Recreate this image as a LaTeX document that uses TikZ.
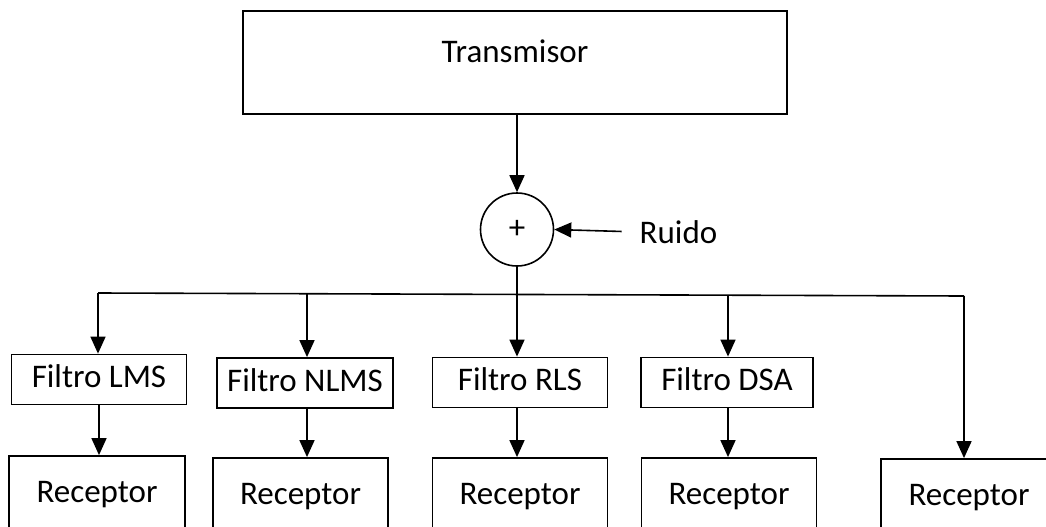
\documentclass[tikz,border=0pt]{standalone}
\usepackage{fontspec}
\setmainfont{Carlito}
\usetikzlibrary{arrows.meta,calc}

\tikzset{
  lbl/.style={font=\fontsize{33}{40}\selectfont, inner sep=0pt},
  blk/.style={lbl, draw, line width=1.8pt},
  filtbox/.style={blk, minimum height=50pt, text height=22pt, text depth=6pt},
  recbox/.style={blk, text height=46pt, text depth=44pt},
  conn/.style={line width=1.6pt},
  arr/.style={conn, -{Triangle[length=17pt,width=15pt]}},
}

\begin{document}
\begin{tikzpicture}[x=1pt, y=-1pt]
  \useasboundingbox (0,0) rectangle (1046,527);
  \clip (0,0) rectangle (1046,527);

  % source and noise adder
  \node[blk, minimum width=544pt, text height=51.5pt, text depth=51.5pt] (tx) at (515,62.5) {Transmisor};
  \node[lbl, draw, circle, line width=1.6pt, minimum size=73pt] (sum) at (517,229.5) {+};
  \node[lbl] (ruido) at (678.5,232) {Ruido};

  % adaptive filters
  \node[filtbox, minimum width=175pt] (f1) at (99,379.5) {Filtro LMS};
  \node[filtbox, minimum width=176pt] (f2) at (305,383) {Filtro NLMS};
  \node[filtbox, minimum width=175pt] (f3) at (520,382.5) {Filtro RLS};
  \node[filtbox, minimum width=172pt] (f4) at (727,382.5) {Filtro DSA};

  % receivers
  \node[recbox, minimum width=176pt] (r1) at (97,501) {Receptor};
  \node[recbox, minimum width=175pt] (r2) at (300.5,503) {Receptor};
  \node[recbox, minimum width=175pt] (r3) at (520,503) {Receptor};
  \node[recbox, minimum width=175pt] (r4) at (729,503) {Receptor};
  \node[recbox, minimum width=176pt] (r5) at (969,504) {Receptor};

  % distribution bus
  \coordinate (jL) at (98,293);
  \coordinate (jR) at (964,296);
  \coordinate (j2) at (307,294);
  \coordinate (j4) at (728,295);

  \draw[arr] (sum.north |- tx.south) -- (sum.north);
  \draw[arr, shorten <=18pt] (ruido.west) -- (sum.east);
  \draw[conn] (jL) -- (jR);
  \draw[arr] (sum.south) -- (sum.south |- f3.north);
  \draw[arr] (jL) -- (jL |- f1.north);
  \draw[arr] (j2) -- (j2 |- f2.north);
  \draw[arr] (j4) -- (j4 |- f4.north);
  \draw[arr] (jR) -- (jR |- r5.north);

  % filter outputs to receivers
  \draw[arr] (f1.south) -- (f1.south |- r1.north);
  \draw[arr] (j2 |- f2.south) -- (j2 |- r2.north);
  \draw[arr] (sum.south |- f3.south) -- (sum.south |- r3.north);
  \draw[arr] (j4 |- f4.south) -- (j4 |- r4.north);
\end{tikzpicture}
\end{document}
